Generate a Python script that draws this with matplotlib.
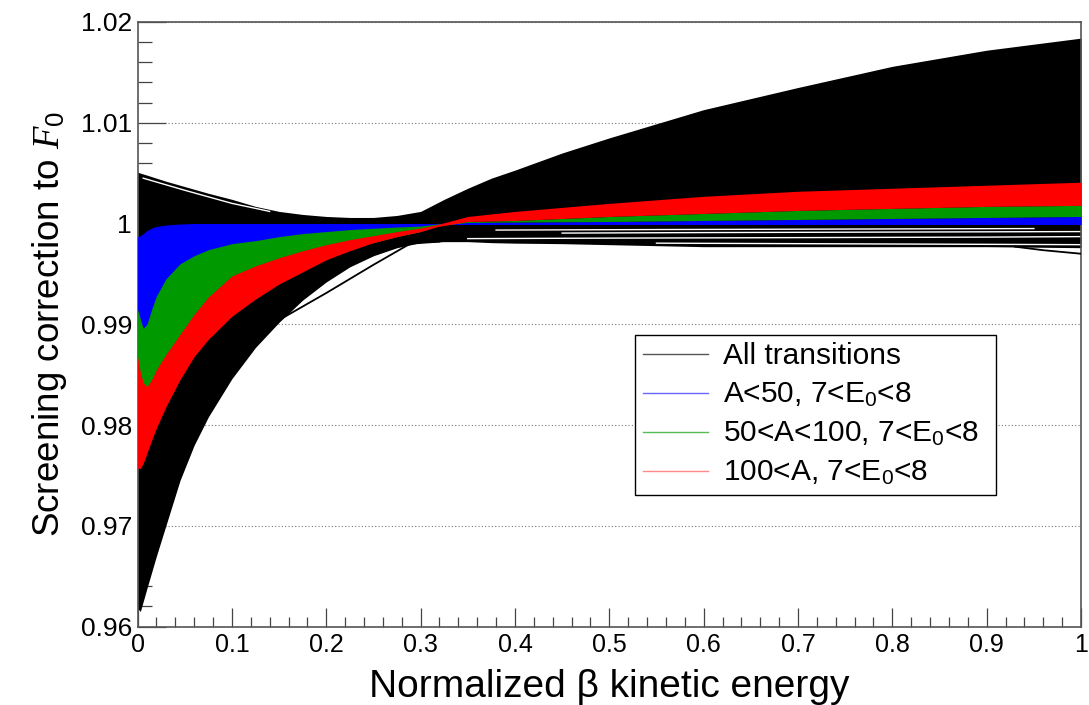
import matplotlib
matplotlib.use("Agg")
import matplotlib.pyplot as plt
from matplotlib.ticker import MultipleLocator, FuncFormatter
from matplotlib.lines import Line2D

plt.rcParams['font.family'] = ['Liberation Sans', 'DejaVu Sans']
plt.rcParams['mathtext.fontset'] = 'custom'
plt.rcParams['mathtext.rm'] = 'Liberation Sans'
plt.rcParams['mathtext.it'] = 'Liberation Serif:italic'
plt.rcParams['mathtext.bf'] = 'Liberation Sans:bold'

# ---------------- data ----------------
# envelope of all transitions
x_all = [0.0, 0.003, 0.01, 0.02, 0.03, 0.045, 0.06, 0.075, 0.1, 0.125, 0.15,
         0.175, 0.2, 0.225, 0.25, 0.275, 0.3, 0.325, 0.35, 0.375, 0.4, 0.45,
         0.5, 0.6, 0.7, 0.8, 0.9, 1.0]
all_upper = [1.0051, 1.0050, 1.0048, 1.0045, 1.0042, 1.0038, 1.0034, 1.0030,
             1.0024, 1.0017, 1.0012, 1.0009, 1.0007, 1.0006, 1.0006, 1.0008,
             1.0012, 1.0024, 1.0035, 1.0045, 1.0053, 1.0070, 1.0085, 1.0113,
             1.0135, 1.0156, 1.0172, 1.0184]
all_lower = [0.9618, 0.9615, 0.9638, 0.9670, 0.9700, 0.9745, 0.9780, 0.9808,
             0.9846, 0.9877, 0.9902, 0.9924, 0.9942, 0.9957, 0.9968, 0.9976,
             0.9981, 0.9982, 0.9982, 0.9981, 0.99805, 0.9980, 0.9979, 0.9977,
             0.9977, 0.9977, 0.9977, 0.9976]

# colour bands (A ranges, 7<E0<8)
x_band = [0.0, 0.003, 0.006, 0.01, 0.015, 0.02, 0.03, 0.045, 0.06, 0.075, 0.1,
          0.125, 0.15, 0.175, 0.2, 0.225, 0.25, 0.275, 0.3, 0.318, 0.35, 0.4,
          0.5, 0.6, 0.7, 0.8, 0.9, 1.0]
blue_hi = [0.9987, 0.9988, 0.9990, 0.9993, 0.99955, 0.9997, 0.99985, 0.99995,
           1.0, 1.0, 1.0, 1.0, 1.0, 1.0, 1.0, 1.0, 1.0, 1.0, 1.0, 1.0,
           1.0001, 1.00015, 1.0002, 1.0003, 1.0004, 1.0005, 1.0006, 1.0007]
blue_lo = [0.9880, 0.9878, 0.9878, 0.9885, 0.9900, 0.9912, 0.9932, 0.9950,
           0.9960, 0.9967, 0.9974, 0.9979, 0.9983, 0.9987, 0.9989, 0.9991,
           0.9993, 0.9995, 0.9996, 0.9999, 0.9999, 0.9999, 0.9999, 0.9999,
           0.9999, 0.9999, 0.9999, 0.9999]
green_hi = [0.9915, 0.9905, 0.9896, 0.9900, 0.9915, 0.9928, 0.9945, 0.9960,
            0.9968, 0.9974, 0.9980, 0.9983, 0.9987, 0.9990, 0.9992, 0.9994,
            0.99953, 0.99965, 0.99975, 0.99995, 1.0002, 1.0003, 1.0007,
            1.0010, 1.0013, 1.0015, 1.0017, 1.0018]
green_lo = [0.9830, 0.9815, 0.9810, 0.9815, 0.9825, 0.9835, 0.9850, 0.9870,
            0.9890, 0.9905, 0.9930, 0.9942, 0.9952, 0.9962, 0.9970, 0.9976,
            0.9981, 0.9987, 0.9992, 0.9998, 1.0001, 1.00015, 1.0002, 1.0003,
            1.0004, 1.0005, 1.0006, 1.0007]
red_hi = [0.9868, 0.9852, 0.9842, 0.9838, 0.9845, 0.9855, 0.9870, 0.9890,
          0.9910, 0.9927, 0.9948, 0.9958, 0.9966, 0.9973, 0.9979, 0.9984,
          0.9988, 0.9992, 0.99955, 0.9999, 1.0007, 1.0012, 1.0020, 1.0027,
          1.0032, 1.0035, 1.0038, 1.0041]
red_lo = [0.9757, 0.9757, 0.9762, 0.9772, 0.9785, 0.9797, 0.9818, 0.9845,
          0.9868, 0.9885, 0.9908, 0.9925, 0.9940, 0.9952, 0.9964, 0.9973,
          0.9981, 0.9987, 0.9992, 0.9997, 1.0002, 1.0003, 1.0007, 1.0010,
          1.0013, 1.0015, 1.0017, 1.0018]

# individual "All transitions" curves lying just outside the dense envelope
stray_x = [[0.144, 0.2, 0.25, 0.289, 0.32],
           [0.93, 0.96, 1.0]]
stray_y = [[0.9901, 0.9931, 0.9959, 0.9980, 0.9982],
           [0.9977, 0.99735, 0.9970]]
# thin empty slivers between individual curves inside the envelope
gap_x = [[0.006, 0.05, 0.1, 0.14],
         [0.35, 0.5, 0.7, 0.9, 1.0],
         [0.45, 0.6, 0.8, 1.0],
         [0.55, 0.7, 0.85, 1.0],
         [0.38, 0.55, 0.75, 0.95]]
gap_y = [[1.0045, 1.0033, 1.0020, 1.0012],
         [0.9985, 0.99855, 0.9986, 0.99865, 0.9987],
         [0.99905, 0.9991, 0.99915, 0.9992],
         [0.99805, 0.9980, 0.99795, 0.9979],
         [0.99935, 0.9994, 0.99945, 0.9995]]

legend_labels = ["All transitions", "A<50, 7<E$_\\mathrm{0}$<8",
                 "50<A<100, 7<E$_\\mathrm{0}$<8", "100<A, 7<E$_\\mathrm{0}$<8"]
legend_colors = ["#555555", "#6666ff", "#55bb55", "#ff8888"]

x_ticks = [0, 0.1, 0.2, 0.3, 0.4, 0.5, 0.6, 0.7, 0.8, 0.9, 1.0]
y_ticks = [0.96, 0.97, 0.98, 0.99, 1.0, 1.01, 1.02]

# ---------------- figure ----------------
fig = plt.figure(figsize=(10.89, 7.05), dpi=100)
ax = fig.add_axes([0.1263, 0.1113, 0.8664, 0.8575])
ax.set_xlim(0, 1)
ax.set_ylim(0.96, 1.02)

ax.fill_between(x_all, all_lower, all_upper, color='black', lw=0, zorder=2)
for gx, gy in zip(gap_x, gap_y):
    ax.plot(gx, gy, color='white', lw=1.0, zorder=2.5)
for sx, sy in zip(stray_x, stray_y):
    ax.plot(sx, sy, color='black', lw=1.3, zorder=2.6)
ax.fill_between(x_band, blue_lo, blue_hi, color='#0000ff', lw=0, zorder=3)
ax.fill_between(x_band, green_lo, green_hi, color='#009900', lw=0, zorder=4)
ax.fill_between(x_band, red_lo, red_hi, color='#ff0000', lw=0, zorder=5)

# grid
ax.set_yticks(y_ticks)
ax.yaxis.grid(True, which='major', linestyle=(0, (1, 2)), color='#777777', lw=0.8)
ax.set_axisbelow(True)

ax.set_xticks(x_ticks)
ax.xaxis.set_minor_locator(MultipleLocator(0.02))
ax.yaxis.set_minor_locator(MultipleLocator(0.002))
fmt = FuncFormatter(lambda v, p: ('%g' % round(v, 4)))
ax.xaxis.set_major_formatter(fmt)
ax.yaxis.set_major_formatter(fmt)

ax.tick_params(axis='both', which='both', direction='in', top=False, right=False,
               color='#444444', width=0.9)
ax.tick_params(axis='y', which='major', length=20, labelsize=19, pad=4)
ax.tick_params(axis='y', which='minor', length=10)
ax.tick_params(axis='x', which='major', length=14, labelsize=18, pad=5)
ax.tick_params(axis='x', which='minor', length=7)
for s in ax.spines.values():
    s.set_color('#555555')
    s.set_linewidth(1.2)

ax.set_xlabel("Normalized \u03b2 kinetic energy", fontsize=28, labelpad=8)
ax.set_ylabel("Screening correction to $F_\\mathrm{0}$", fontsize=26.5, labelpad=8)

handles = [Line2D([], [], color=c, lw=1.0) for c in legend_colors]
leg = ax.legend(handles, legend_labels, loc='upper left', mode='expand',
                bbox_to_anchor=(0.5273, 0.2192, 0.3826, 0.263), borderaxespad=0,
                fontsize=21.5, frameon=True, fancybox=False, framealpha=1,
                edgecolor='black', handlelength=2.2, handletextpad=0.5,
                labelspacing=0.36, borderpad=0.25)
leg.get_frame().set_linewidth(1.0)
leg.set_zorder(10)

fig.savefig("out.png", dpi=100)
